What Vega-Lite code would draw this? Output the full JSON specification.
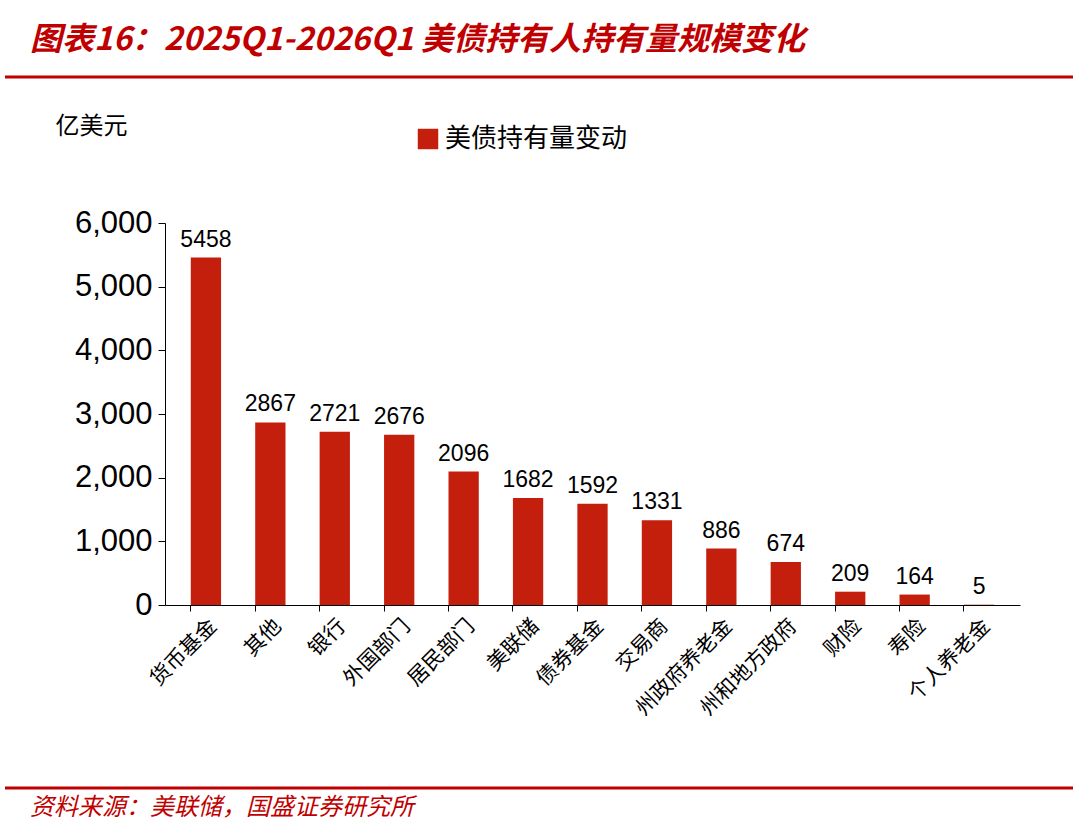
{
  "$schema": "https://vega.github.io/schema/vega-lite/v6.json",
  "width": 855,
  "height": 382,
  "autosize": "none",
  "padding": {"left": 165, "top": 223, "right": 60, "bottom": 233},
  "background": "white",
  "data": {"values": [
    {"holder": "货币基金", "value": 5458, "series": "美债持有量变动"},
    {"holder": "其他", "value": 2867, "series": "美债持有量变动"},
    {"holder": "银行", "value": 2721, "series": "美债持有量变动"},
    {"holder": "外国部门", "value": 2676, "series": "美债持有量变动"},
    {"holder": "居民部门", "value": 2096, "series": "美债持有量变动"},
    {"holder": "美联储", "value": 1682, "series": "美债持有量变动"},
    {"holder": "债券基金", "value": 1592, "series": "美债持有量变动"},
    {"holder": "交易商", "value": 1331, "series": "美债持有量变动"},
    {"holder": "州政府养老金", "value": 886, "series": "美债持有量变动"},
    {"holder": "州和地方政府", "value": 674, "series": "美债持有量变动"},
    {"holder": "财险", "value": 209, "series": "美债持有量变动"},
    {"holder": "寿险", "value": 164, "series": "美债持有量变动"},
    {"holder": "个人养老金", "value": 5, "series": "美债持有量变动"}
  ]},
  "encoding": {
    "y": {
      "field": "value", "type": "quantitative",
      "scale": {"domain": [0, 6000]},
      "axis": {
        "values": [0, 1000, 2000, 3000, 4000, 5000, 6000],
        "format": ",.0f", "grid": false, "labelFontSize": 31,
        "labelFont": "Liberation Sans", "labelColor": "#000",
        "domainColor": "#000", "tickColor": "#000", "tickSize": 7,
        "labelPadding": 6,
        "title": "亿美元", "titleAngle": 0, "titleX": -110, "titleY": -85,
        "titleFontSize": 24, "titleFontWeight": "normal",
        "titleFont": "Noto Sans CJK SC", "titleColor": "#000", "titleAlign": "left"
      }
    }
  },
  "layer": [
    {
      "mark": {"type": "bar", "color": "#C41E0C"},
      "encoding": {
        "x": {
          "field": "holder", "type": "nominal", "sort": null,
          "scale": {"paddingInner": 0.53, "paddingOuter": 0.4},
          "axis": {
            "title": null, "labelAngle": -45, "labelFontSize": 21,
            "labelFont": "Noto Sans CJK SC", "labelColor": "#000",
            "domainColor": "#000", "tickColor": "#000", "bandPosition": 0,
            "tickSize": 6, "labelPadding": 4
          }
        },
        "color": {
          "field": "series", "type": "nominal",
          "scale": {"range": ["#C41E0C"]},
          "legend": {
            "title": null, "orient": "none", "legendX": 250, "legendY": -97,
            "symbolType": "square", "symbolSize": 420, "labelFontSize": 26,
            "labelLimit": 400,
            "labelFont": "Noto Sans CJK SC", "labelColor": "#000"
          }
        }
      }
    },
    {
      "mark": {"type": "text", "dy": -18, "fontSize": 23, "font": "Liberation Sans", "color": "#000"},
      "encoding": {
        "x": {"field": "holder", "type": "nominal", "sort": null},
        "text": {"field": "value", "type": "quantitative"}
      }
    },
    {
      "data": {"values": [{"y": 8293}, {"y": -2875}]},
      "mark": {"type": "rule", "x": -160, "x2": 908, "color": "#C00000", "strokeWidth": 3, "clip": false},
      "encoding": {"y": {"field": "y", "type": "quantitative"}}
    },
    {
      "data": {"values": [{"y": 8875, "t": "图表16：2025Q1-2026Q1 美债持有人持有量规模变化"}]},
      "mark": {"type": "text", "x": -135, "align": "left", "baseline": "middle", "font": "Noto Sans CJK SC", "fontStyle": "italic", "fontWeight": "bold", "fontSize": 32, "color": "#C00000", "clip": false},
      "encoding": {"y": {"field": "y", "type": "quantitative"}, "text": {"field": "t"}}
    },
    {
      "data": {"values": [{"y": -3190, "t": "资料来源：美联储，国盛证券研究所"}]},
      "mark": {"type": "text", "x": -135, "align": "left", "baseline": "middle", "font": "Noto Sans CJK SC", "fontStyle": "italic", "fontSize": 24, "color": "#C00000", "clip": false},
      "encoding": {"y": {"field": "y", "type": "quantitative"}, "text": {"field": "t"}}
    }
  ],
  "config": {"view": {"stroke": null}}
}
